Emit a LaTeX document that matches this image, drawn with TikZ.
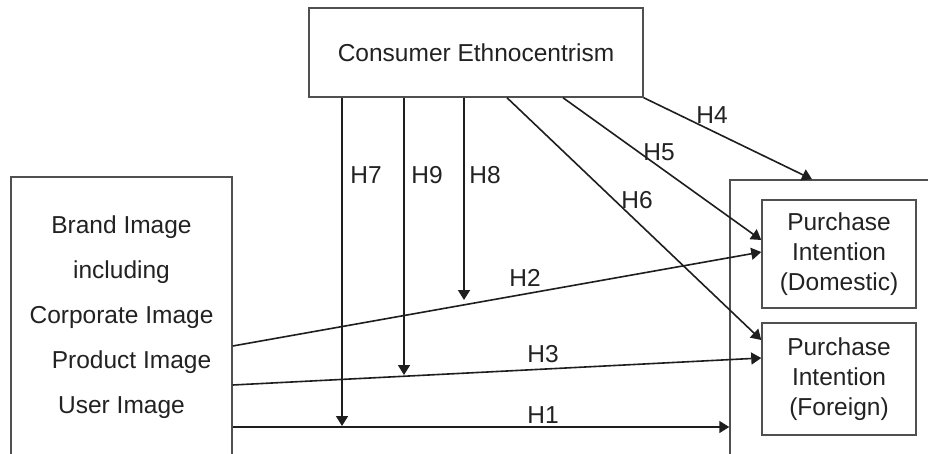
\documentclass[tikz,border=0pt]{standalone}
\usepackage{fontspec}
\setmainfont{Liberation Sans}
\usetikzlibrary{arrows.meta}
\definecolor{boxc}{HTML}{505050}
\definecolor{txtc}{HTML}{222222}
\definecolor{arrc}{HTML}{1E1E1E}
\begin{document}
\begin{tikzpicture}[x=1pt,y=-1pt,
  every node/.style={font=\fontsize{24.5}{29}\selectfont, text=txtc},
  boxn/.style={draw=boxc, line width=1.5pt, inner sep=0pt, align=center},
  arr/.style={draw=arrc, line width=1.6pt, -{Triangle[length=10pt,width=12pt]}},
  lbl/.style={inner sep=0pt}]
\useasboundingbox (0,0) rectangle (928,454);
\fill[white] (0,0) rectangle (928,454);
% boxes
\node[boxn, minimum width=334pt, minimum height=89pt] (top) at (476,52.5) {Consumer Ethnocentrism};
\node[boxn, minimum width=221pt, minimum height=280pt, align=center,
  font=\fontsize{24.5}{45}\selectfont] (left) at (121.5,317) {Brand Image\\including\\Corporate Image\\\hspace*{20pt}Product Image\\User Image};
\node[boxn, minimum width=210pt, minimum height=290pt] (outer) at (835,325) {};
\node[boxn, minimum width=154pt, minimum height=108pt, font=\fontsize{24.5}{30}\selectfont] (dom) at (839,254) {Purchase\\Intention\\(Domestic)};
\node[boxn, minimum width=154pt, minimum height=112pt, font=\fontsize{24.5}{30}\selectfont] (for) at (839,379) {Purchase\\Intention\\(Foreign)};
% free ends of moderating arrows
\coordinate (m7) at (342,426);
\coordinate (m9) at (404,375);
\coordinate (m8) at (464,300);
% direct effects
\draw[arr] (left.east |- 0,427) -- (outer.west |- 0,427);
\draw[arr] (left.east |- 0,385) -- (for.west |- 0,358);
\draw[arr] (left.east |- 0,346) -- (dom.west |- 0,252);
% moderating
\draw[arr] (top.south -| 342,0) -- (m7);
\draw[arr] (top.south -| 404,0) -- (m9);
\draw[arr] (top.south -| 464,0) -- (m8);
% CE effects
\draw[arr] (top.south east) -- (outer.north -| 812,0);
\draw[arr] (top.south -| 563,0) -- (dom.west |- 0,240);
\draw[arr] (top.south -| 507,0) -- (for.west |- 0,340);
% labels
\node[lbl] (l7) at (366,175) {H7};
\node[lbl] (l9) at (427,175) {H9};
\node[lbl] (l8) at (485,175) {H8};
\node[lbl] (l4) at (712,115) {H4};
\node[lbl] (l5) at (659,152) {H5};
\node[lbl] (l6) at (637,200) {H6};
\node[lbl] (l2) at (525,278) {H2};
\node[lbl] (l3) at (543,354) {H3};
\node[lbl] (l1) at (543,415) {H1};
\end{tikzpicture}
\end{document}
